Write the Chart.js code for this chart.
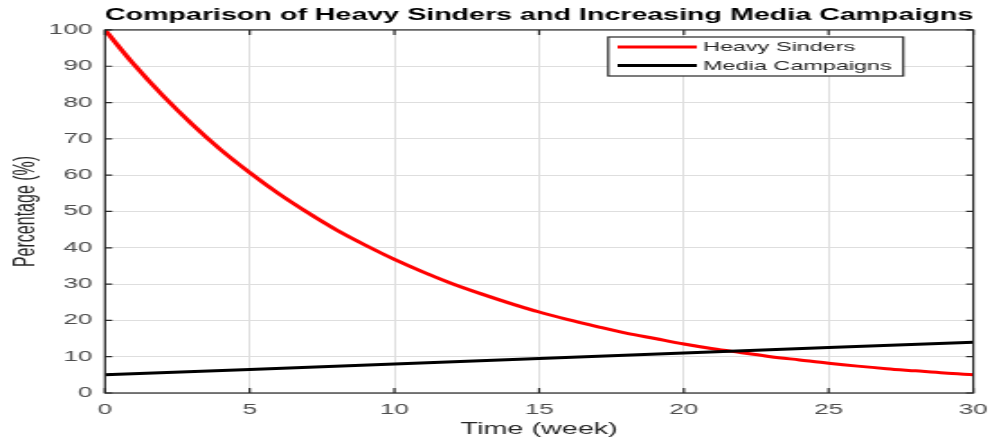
<!DOCTYPE html>
<html>
<head>
<meta charset="utf-8">
<script src="https://cdn.jsdelivr.net/npm/chart.js@4/dist/chart.umd.min.js"></script>
<style>
  html, body { margin: 0; padding: 0; background: #fff; overflow: hidden; }
  #wrap { width: 551px; height: 441px; transform: scaleX(1.8004); transform-origin: 0 0; }
</style>
</head>
<body>
<div id="wrap"><canvas id="c" width="551" height="441"></canvas></div>
<script>
// Weeks 0..30
const weeks = [0,1,2,3,4,5,6,7,8,9,10,11,12,13,14,15,16,17,18,19,20,21,22,23,24,25,26,27,28,29,30];
// Share of heavy sinders (%) per week
const heavySinders = [100,90.5,81.9,74.1,67.0,60.7,54.9,49.7,44.9,40.7,36.8,33.3,30.1,27.3,24.7,22.3,20.2,18.3,16.5,15.0,13.5,12.2,11.1,10.0,9.1,8.2,7.4,6.7,6.1,5.5,5.0];
// Media campaign coverage (%) at selected weeks
const mediaWeeks = [0,5,10,15,20,25,30];
const mediaCampaigns = [5.0,6.5,8.0,9.5,11.0,12.5,14.0];
const xTicks = [0,5,10,15,20,25,30];
const yTicks = [0,10,20,30,40,50,60,70,80,90,100];

const AXIS = '#262626';
const TICK_TXT = '#4d4d4d';
const FONT = 'Liberation Sans, Arial, sans-serif';

const frame = {
  id: 'frame',
  afterDraw(chart) {
    const {ctx, chartArea: a, scales: {x, y}} = chart;
    ctx.save();
    ctx.strokeStyle = AXIS;
    ctx.lineWidth = 1.2;
    // box
    ctx.strokeRect(a.left, a.top, a.right - a.left, a.bottom - a.top);
    // inward ticks on all four sides
    ctx.beginPath();
    xTicks.forEach(v => {
      const px = x.getPixelForValue(v);
      ctx.moveTo(px, a.bottom); ctx.lineTo(px, a.bottom - 5);
      ctx.moveTo(px, a.top); ctx.lineTo(px, a.top + 5);
    });
    yTicks.forEach(v => {
      const py = y.getPixelForValue(v);
      ctx.moveTo(a.left, py); ctx.lineTo(a.left + 4, py);
      ctx.moveTo(a.right, py); ctx.lineTo(a.right - 4, py);
    });
    ctx.stroke();

    // legend box
    const L = 337.8, T = 37, R = 501.7, B = 76;
    ctx.fillStyle = '#fff';
    ctx.fillRect(L, T, R - L, B - T);
    ctx.strokeStyle = AXIS;
    ctx.lineWidth = 1.2;
    ctx.strokeRect(L, T, R - L, B - T);
    const rows = [47, 65.5];
    chart.data.datasets.forEach((ds, i) => {
      const yy = rows[i];
      ctx.strokeStyle = ds.borderColor;
      ctx.lineWidth = 3;
      ctx.beginPath(); ctx.moveTo(343, yy); ctx.lineTo(387, yy); ctx.stroke();
      ctx.fillStyle = AXIS;
      ctx.font = '13px ' + FONT;
      ctx.textBaseline = 'middle';
      ctx.textAlign = 'left';
      ctx.fillText(ds.label, 390.5, yy + 0.5);
    });
    ctx.restore();
  }
};

new Chart(document.getElementById('c'), {
  type: 'line',
  data: {
    datasets: [
      {
        label: 'Heavy Sinders',
        data: weeks.map((w, i) => ({x: w, y: heavySinders[i]})),
        borderColor: '#ff0000',
        borderWidth: 3,
        pointRadius: 0,
        cubicInterpolationMode: 'monotone',
        order: 1
      },
      {
        label: 'Media Campaigns',
        data: mediaWeeks.map((w, i) => ({x: w, y: mediaCampaigns[i]})),
        borderColor: '#000000',
        borderWidth: 3,
        pointRadius: 0,
        order: 0
      }
    ]
  },
  options: {
    responsive: false,
    animation: false,
    events: [],
    layout: { padding: { top: 0, right: 10.4, left: 0, bottom: 0 } },
    plugins: {
      legend: { display: false },
      tooltip: { enabled: false },
      title: {
        display: true,
        fullSize: false,
        text: 'Comparison of Heavy Sinders and Increasing Media Campaigns',
        color: '#000',
        font: { family: FONT, size: 16.2, weight: 'bold', lineHeight: 1.2 },
        padding: { top: 6, bottom: 4.5 }
      }
    },
    scales: {
      x: {
        type: 'linear',
        min: 0, max: 30,
        afterFit(s) { s.height = 48; s.paddingLeft = 0; s.paddingRight = 0; },
        afterBuildTicks(s) { s.ticks = xTicks.map(v => ({value: v})); },
        ticks: { color: TICK_TXT, font: { family: FONT, size: 14.5 }, padding: 8, maxRotation: 0 },
        grid: { color: '#dedede', lineWidth: 1, drawTicks: false },
        border: { display: false },
        title: {
          display: true, text: 'Time (week)', color: AXIS,
          font: { family: FONT, size: 16, lineHeight: 1.2 },
          padding: { top: 0, bottom: 1.5 }
        }
      },
      y: {
        min: 0, max: 100,
        afterFit(s) { s.width = 58.3; s.paddingTop = 0; s.paddingBottom = 0; },
        afterBuildTicks(s) { s.ticks = yTicks.map(v => ({value: v})); },
        ticks: { color: TICK_TXT, font: { family: FONT, size: 14.5 }, padding: 7 },
        grid: { color: '#dedede', lineWidth: 1, drawTicks: false },
        border: { display: false },
        title: {
          display: true, text: 'Percentage (%)', color: AXIS,
          font: { family: FONT, size: 16, lineHeight: 1.2 },
          padding: { top: 5, bottom: 0 }
        }
      }
    }
  },
  plugins: [frame]
});
</script>
</body>
</html>
